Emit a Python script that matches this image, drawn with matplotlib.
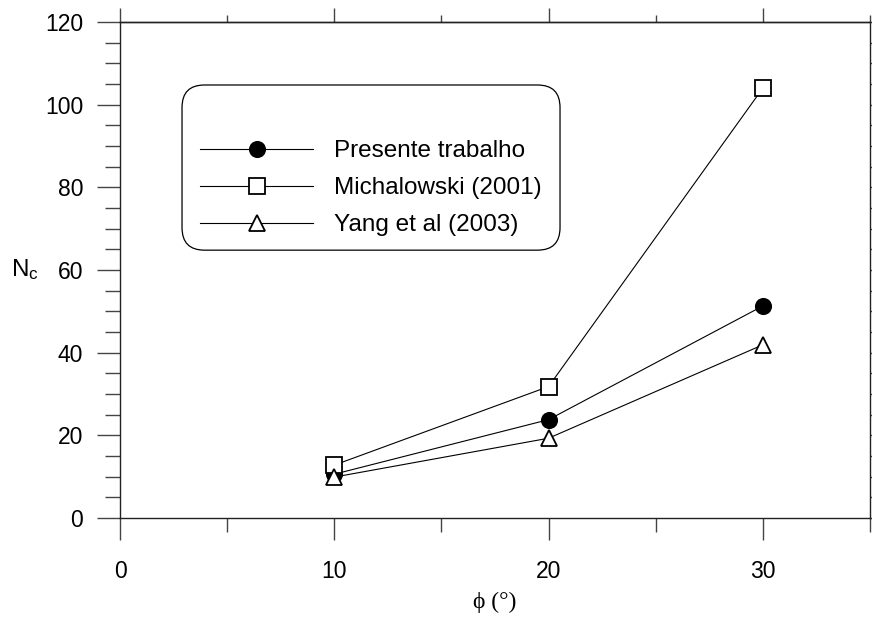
import matplotlib
matplotlib.use('Agg')
import matplotlib.pyplot as plt
from matplotlib.patches import FancyBboxPatch
from matplotlib.ticker import MultipleLocator

plt.rcParams['font.family'] = ['Liberation Sans', 'DejaVu Sans']

phi = [10, 20, 30]
nc_presente = [10.6, 23.8, 51.3]
nc_michalowski = [12.8, 31.8, 104.0]
nc_yang = [9.9, 19.3, 41.9]

labels = ['Presente trabalho', 'Michalowski (2001)', 'Yang et al (2003)']

fig = plt.figure(figsize=(8.72, 6.17), dpi=100)
ax = fig.add_axes([120 / 872, 1 - 518 / 617, 750 / 872, 496 / 617])

line_kw = dict(color='black', lw=0.8, markersize=11, markeredgewidth=1.3)
ax.plot(phi, nc_presente, marker='o', mfc='black', mec='black', label=labels[0], **line_kw)
ax.plot(phi, nc_michalowski, marker='s', mfc='white', mec='black', label=labels[1], **line_kw)
ax.plot(phi, nc_yang, marker='^', mfc='white', mec='black', label=labels[2], **line_kw)

ax.set_xlim(0, 35)
ax.set_ylim(0, 120)
ax.xaxis.set_major_locator(MultipleLocator(10))
ax.xaxis.set_minor_locator(MultipleLocator(5))
ax.yaxis.set_major_locator(MultipleLocator(20))
ax.yaxis.set_minor_locator(MultipleLocator(5))

for s in ax.spines.values():
    s.set_linewidth(1.0)
    s.set_color('#222222')

ax.tick_params(which='both', direction='out', top=False, right=True,
               labelsize=16.5, colors='#444444', labelcolor='black', width=1.0)
ax.tick_params(axis='x', which='major', length=16, pad=14)
ax.tick_params(axis='x', which='minor', length=10)
ax.tick_params(axis='y', which='major', length=16.5, pad=10)
ax.tick_params(axis='y', which='minor', length=11)

# top axis carries shorter ticks than the bottom one
top = ax.secondary_xaxis('top')
top.xaxis.set_major_locator(MultipleLocator(10))
top.xaxis.set_minor_locator(MultipleLocator(5))
top.tick_params(which='both', direction='out', labeltop=False, colors='#444444', width=1.0)
top.tick_params(which='major', length=10)
top.tick_params(which='minor', length=5)
top.spines['top'].set_linewidth(1.0)
top.spines['top'].set_color('#222222')

ax.set_xlabel('ϕ (°)', fontsize=17, family=['Liberation Serif', 'DejaVu Serif'], va='center')
ax.xaxis.set_label_coords(0.5, -0.171)
ax.set_ylabel(r'$\mathregular{N_c}$', fontsize=17.5, rotation=0, ha='center', va='center')
ax.yaxis.set_label_coords(-0.127, 0.5)

# rounded frame behind the legend
box = FancyBboxPatch((0.0827, 0.540), 0.504, 0.333, transform=ax.transAxes,
                     boxstyle='round,pad=0,rounding_size=0.03',
                     facecolor='white', edgecolor='black', lw=0.9,
                     mutation_aspect=750 / 496)
ax.add_patch(box)

leg = ax.legend(loc='center left', bbox_to_anchor=(0.1067, 0.665), frameon=False,
                fontsize=17.5, handlelength=4.65, handletextpad=0.85,
                labelspacing=0.62, borderpad=0, borderaxespad=0)

fig.savefig('out.png', dpi=100)
